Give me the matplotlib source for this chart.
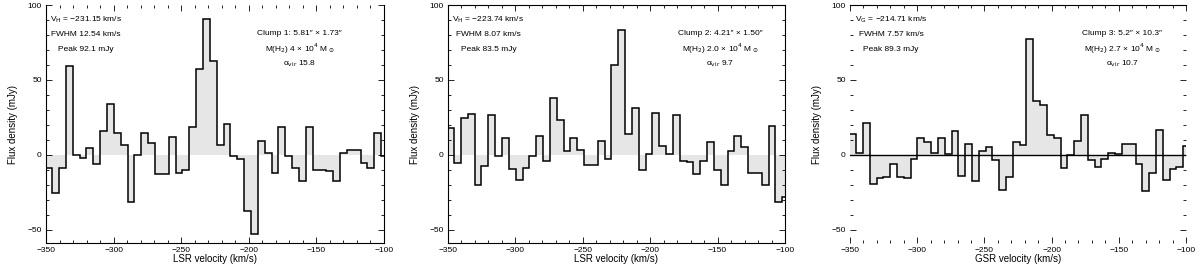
import matplotlib

matplotlib.use("Agg")
import matplotlib.pyplot as plt
import numpy as np
from matplotlib.ticker import MultipleLocator

plt.rcParams["font.family"] = ["Liberation Sans", "DejaVu Sans"]
plt.rcParams["mathtext.fontset"] = "dejavusans"

# channel grid (km/s)
v_start = -350.5
chan_width = 5.07
n_chan = 50

# flux density per channel (mJy)
flux_clump1 = [
    -8.9, -25.6, -8.9, 59.3, 0.0, -2.2, 4.4, -6.2, 16.0, 33.8,
    14.4, 6.2, -31.6, -0.4, 14.4, 7.8, -12.9, -12.9, 11.6, -12.2,
    -10.0, 18.4, 57.3, 90.4, 62.7, 6.2, 20.7, -1.1, -2.9, -37.3,
    -52.9, 8.9, 1.1, -12.2, 18.2, -1.1, -8.9, -17.8, 18.2, -10.0,
    -10.0, -11.1, -17.8, 1.1, 2.9, 3.3, -5.6, -8.9, 14.4, -1.1,
]
flux_clump2 = [
    18.0, -5.5, 24.3, 27.0, -20.5, -7.7, 26.5, -1.0, 11.3, -9.3,
    -17.1, -8.6, -1.0, 12.4, -4.4, 37.7, 23.2, 2.3, 11.3, 3.0,
    -7.0, -7.0, 9.0, -2.6, 60.0, 83.6, 13.5, 31.0, -10.4, 0.5,
    27.6, 5.7, 0.5, 26.5, -4.4, -5.2, -12.6, -4.4, 8.2, -10.0,
    -20.0, 2.6, 12.4, 5.2, -12.2, -12.2, -20.5, 19.1, -31.7, -28.0,
]
flux_clump3 = [
    13.5, 1.0, 21.5, -19.5, -15.5, -15.0, -6.5, -15.0, -15.5, -2.7,
    11.2, 8.5, 1.0, 11.2, 0.7, 15.7, -14.4, 7.4, -17.7, 2.2,
    5.1, -3.8, -23.6, -15.0, 8.3, 6.3, 77.4, 35.9, 33.2, 13.0,
    11.2, -8.7, 0.0, 9.0, 26.4, -3.4, -8.3, -3.0, 1.3, 0.7,
    7.4, 7.4, -6.5, -24.0, -12.4, 16.4, -16.8, -9.4, -8.5, 6.0,
]

left_notes = [
    ["V$_{\\rm H}$ = \u2212231.15 km/s", "FWHM 12.54 km/s", "Peak 92.1 mJy"],
    ["V$_{\\rm H}$ = \u2212223.74 km/s", "FWHM 8.07 km/s", "Peak 83.5 mJy"],
    ["V$_{\\rm G}$ = \u2212214.71 km/s", "FWHM 7.57 km/s", "Peak 89.3 mJy"],
]
right_notes = [
    ["Clump 1: 5.81\u2033 \u00d7 1.73\u2033", "M(H$_2$) 4 \u00d7 10$^4$ M$_\\odot$",
     "\u03b1$_{\\rm vir}$ 15.8"],
    ["Clump 2: 4.21\u2033 \u00d7 1.50\u2033", "M(H$_2$) 2.0 \u00d7 10$^4$ M$_\\odot$",
     "\u03b1$_{\\rm vir}$ 9.7"],
    ["Clump 3: 5.2\u2033 \u00d7 10.3\u2033", "M(H$_2$) 2.7 \u00d7 10$^4$ M$_\\odot$",
     "\u03b1$_{\\rm vir}$ 10.7"],
]
x_labels = ["LSR velocity (km/s)", "LSR velocity (km/s)", "GSR velocity (km/s)"]
left_x = [0.118, 0.12, 0.122]
right_x = [0.75, 0.807, 0.81]

edges = v_start + chan_width * np.arange(n_chan + 1)
spectra = [flux_clump1, flux_clump2, flux_clump3]
ax_left = [46, 448, 850]
ax_width = [338, 337, 336]

W, H = 1200, 269
fig = plt.figure(figsize=(W / 100, H / 100), dpi=100)
fs = 6

for i, flux in enumerate(spectra):
    ax = fig.add_axes([ax_left[i] / W, 26 / H, ax_width[i] / W, 238 / H])
    ax.stairs(flux, edges, baseline=0, fill=True, color="#e6e6e6", lw=0)
    ax.stairs(flux, edges, baseline=None, color="black", lw=1.1)
    if i == 2:
        ax.axhline(0, color="black", lw=1.0)
        for side in ("left", "right", "bottom"):
            ax.spines[side].set_visible(False)
    if i == 0:
        ax.spines["top"].set_visible(False)
    for sp in ax.spines.values():
        sp.set_linewidth(0.8)

    ax.set_xlim(-350, -100)
    ax.set_ylim(-59, 100)
    ax.xaxis.set_major_locator(MultipleLocator(50))
    ax.xaxis.set_minor_locator(MultipleLocator(10))
    ax.yaxis.set_major_locator(MultipleLocator(50))
    ax.yaxis.set_minor_locator(MultipleLocator(10))
    ax.tick_params(which="both", direction="in", top=True, right=True,
                   labelsize=fs, width=0.6, pad=3)
    ax.tick_params(which="major", length=4)
    ax.tick_params(which="minor", length=2)
    ax.set_xlabel(x_labels[i], fontsize=7, labelpad=0)
    ax.set_ylabel("Flux density (mJy)", fontsize=7, labelpad=7)

    for j, line in enumerate(left_notes[i]):
        ax.text(left_x[i], 0.937 - 0.063 * j, line, transform=ax.transAxes,
                ha="center", va="center", fontsize=fs)
    for j, line in enumerate(right_notes[i]):
        ax.text(right_x[i], 0.88 - 0.063 * j, line, transform=ax.transAxes,
                ha="center", va="center", fontsize=fs)

fig.savefig("out.png", dpi=100)
